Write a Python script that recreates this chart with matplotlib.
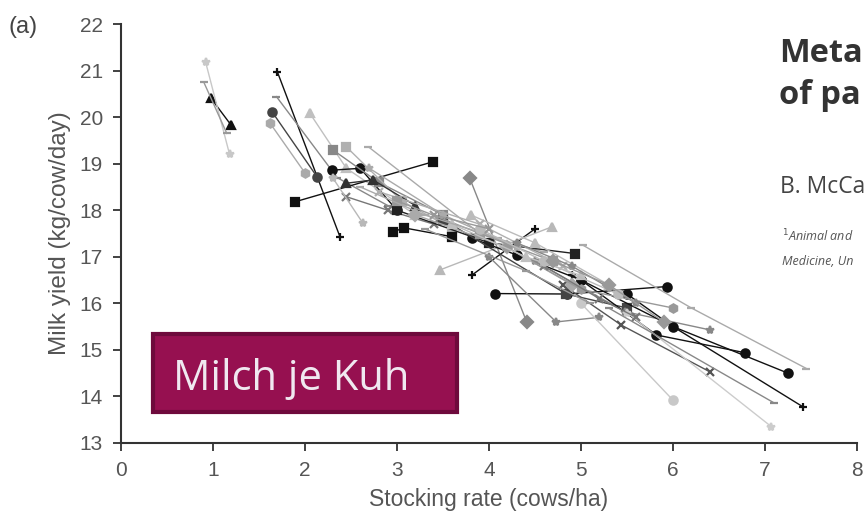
import matplotlib.pyplot as plt
from matplotlib.patches import FancyBboxPatch

# each study: stocking rates (cows/ha), milk yields (kg/cow/day), marker, shade
study_x = [
    [0.98, 1.20], [0.92, 1.18], [0.90, 1.15],
    [1.70, 2.38], [1.69, 2.35, 2.90], [1.64, 2.13], [1.62, 2.00],
    [2.05, 2.45, 3.20], [1.89, 3.39], [2.29, 2.60, 3.00],
    [2.30, 2.80, 3.50], [2.45, 3.05, 3.60], [2.45, 2.74, 3.20],
    [2.69, 3.90, 4.60], [2.96, 3.08, 3.60], [2.45, 2.90, 3.40],
    [2.30, 2.63], [3.79, 4.41], [3.81, 4.50], [3.47, 4.68],
    [4.07, 4.85, 5.93], [3.81, 4.30, 5.00], [3.00, 4.00, 4.93],
    [4.00, 4.73, 5.20], [3.50, 4.84, 5.50], [4.50, 5.48, 6.40],
    [4.80, 5.44, 6.40], [5.00, 5.82, 6.78], [5.50, 6.00, 7.25],
    [4.90, 6.00, 7.41], [5.00, 6.00], [5.50, 7.07],
    [5.02, 6.20, 7.45], [5.30, 7.10], [3.80, 4.50, 5.30],
    [3.20, 4.20, 4.90], [2.80, 3.90, 4.80], [4.20, 5.00, 6.00],
    [4.60, 5.20, 5.60], [3.30, 4.40, 5.10],
    [2.70, 3.50, 4.30], [3.00, 3.90, 4.70], [3.60, 4.40, 5.00],
    [2.60, 3.30, 4.10], [4.30, 4.90, 5.60], [3.90, 4.60, 5.40],
    [4.70, 5.30, 5.90], [3.40, 4.00],
]
study_y = [
    [20.40, 19.82], [21.18, 19.20], [20.75, 19.65],
    [20.97, 17.43], [20.44, 18.70, 18.10], [20.12, 18.72], [19.87, 18.80],
    [20.09, 18.90, 17.90], [18.18, 19.04], [18.86, 18.90, 18.00],
    [19.30, 18.60, 17.90], [19.36, 18.20, 17.60], [18.58, 18.65, 18.10],
    [19.36, 17.50, 17.10], [17.54, 17.62, 17.43], [18.29, 18.00, 17.70],
    [18.70, 17.72], [18.69, 15.60], [16.60, 17.60], [16.72, 17.64],
    [16.21, 16.20, 16.36], [17.40, 17.04, 16.50], [18.00, 17.30, 17.07],
    [17.00, 15.60, 15.70], [17.80, 16.20, 15.90], [16.90, 15.82, 15.43],
    [16.40, 15.53, 14.53], [16.50, 15.32, 14.94], [16.20, 15.50, 14.50],
    [16.60, 15.50, 13.78], [16.00, 13.92], [15.80, 13.35],
    [17.25, 15.90, 14.60], [15.90, 13.86], [17.90, 17.30, 16.40],
    [17.90, 17.20, 16.40], [18.40, 17.70, 16.80], [17.20, 16.30, 15.90],
    [16.80, 16.10, 15.70], [17.60, 16.70, 16.00],
    [18.90, 17.90, 17.20], [18.20, 17.50, 16.90], [17.70, 17.00, 16.60],
    [18.50, 17.90, 17.40], [17.30, 16.80, 16.00], [17.60, 16.90, 16.20],
    [16.90, 16.40, 15.60], [17.90, 17.60],
]
study_marker = [
    "^", "*", "_",
    "+", "_", "o", "h",
    "^", "s", "o",
    "s", "s", "^",
    "_", "s", "x",
    "*", "D", "+", "^",
    "o", "o", "s",
    "*", "s", "*",
    "x", "o", "o",
    "+", "o", "*",
    "_", "_", "^",
    "D", "x", "h",
    "x", "_",
    "*", "s", "^",
    "_", "*", "o",
    "D", "x",
]
study_shade = [
    "#111111", "#c8c8c8", "#999999",
    "#111111", "#888888", "#444444", "#aaaaaa",
    "#c0c0c0", "#111111", "#111111",
    "#888888", "#b0b0b0", "#333333",
    "#aaaaaa", "#111111", "#777777",
    "#b8b8b8", "#888888", "#111111", "#b8b8b8",
    "#111111", "#111111", "#222222",
    "#888888", "#444444", "#888888",
    "#555555", "#111111", "#111111",
    "#111111", "#c8c8c8", "#cccccc",
    "#aaaaaa", "#888888", "#bbbbbb",
    "#aaaaaa", "#b0b0b0", "#999999",
    "#777777", "#999999",
    "#aaaaaa", "#999999", "#c0c0c0",
    "#aaaaaa", "#888888", "#bbbbbb",
    "#999999", "#999999",
]

plt.rcParams["font.family"] = ["Liberation Sans", "DejaVu Sans"]

fig = plt.figure(figsize=(8.66, 5.23), dpi=100)
ax = fig.add_axes([121 / 866, 1 - 443 / 523, 736 / 866, 419 / 523])

for xs, ys, m, c in zip(study_x, study_y, study_marker, study_shade):
    ax.plot(xs, ys, color=c, lw=1.0, marker=m, ms=6, mew=1.6,
            mfc=c, mec=c)

ax.set_xlim(0, 8)
ax.set_ylim(13, 22)
ax.set_xticks(range(0, 9))
ax.set_yticks(range(13, 23))
for s in ["top", "right"]:
    ax.spines[s].set_visible(False)
for s in ["left", "bottom"]:
    ax.spines[s].set_color("#333333")
    ax.spines[s].set_linewidth(1.5)
ax.tick_params(length=6, width=1.3, color="#333333", labelsize=15,
               labelcolor="#555555", pad=7)
ax.set_xlabel("Stocking rate (cows/ha)", fontsize=16.5, color="#555555",
              labelpad=6)
ax.set_ylabel("Milk yield (kg/cow/day)", fontsize=17.5, color="#555555",
              labelpad=6)
fig.text(9 / 866, 1 - 27 / 523, "(a)", fontsize=17, color="#444444",
         va="center")

# article header text bleeding in from the right
fig.text(779 / 866, 1 - 62 / 523, "Meta", fontsize=23.5, fontweight="bold",
         family="Open Sans", color="#333333")
fig.text(779 / 866, 1 - 104 / 523, "of pa", fontsize=23.5, fontweight="bold",
         family="Open Sans", color="#333333")
fig.text(780 / 866, 1 - 193 / 523, "B. McCa", fontsize=16.5,
         family="Open Sans", color="#444444")
fig.text(782 / 866, 1 - 241 / 523, "$^1$Animal and", fontsize=9,
         style="italic", family="Open Sans", color="#555555")
fig.text(782 / 866, 1 - 265 / 523, "Medicine, Un", fontsize=9,
         style="italic", family="Open Sans", color="#555555")

# label box
box = FancyBboxPatch((153 / 866, 1 - 412 / 523), 304 / 866, 78 / 523,
                     boxstyle="square,pad=0", transform=fig.transFigure,
                     facecolor="#961050", edgecolor="#6e0a3c", lw=3,
                     zorder=5)
fig.add_artist(box)
fig.text(173 / 866, 1 - 390 / 523, "Milch je Kuh", fontsize=30,
         family="Open Sans", color="#f0e8f0", zorder=6)

fig.savefig("out.png", dpi=100)
plt.close(fig)
